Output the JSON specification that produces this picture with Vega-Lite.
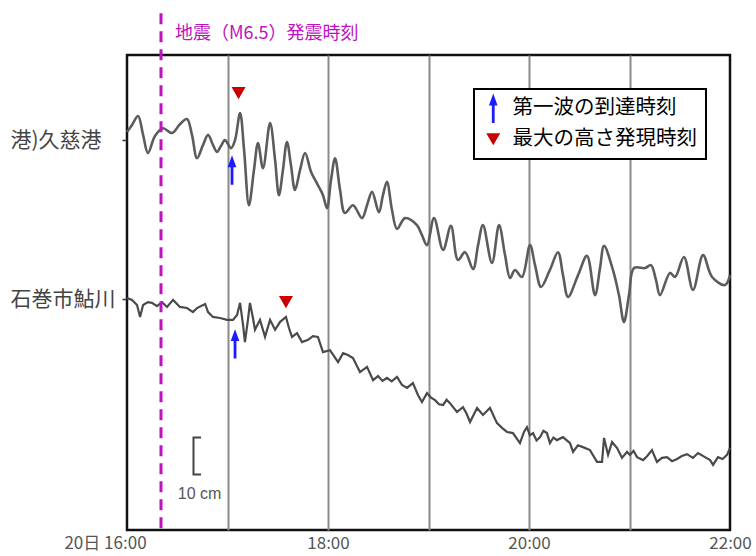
{
  "$schema": "https://vega.github.io/schema/vega-lite/v6.json",
  "autosize": "none",
  "width": 603,
  "height": 475,
  "padding": {"left": 127, "top": 55, "right": 26, "bottom": 26},
  "background": "white",
  "datasets": {
    "kuji": [
      {"t":0,"h":107.6},{"t":3.0,"h":109.5},{"t":6.6,"h":111.9},{"t":9.6,"h":106.8},{"t":12.5,"h":101.9},
      {"t":16.7,"h":106.5},{"t":21.5,"h":108.6},{"t":26.9,"h":107.3},{"t":31.6,"h":109.7},{"t":35.8,"h":111.1},
      {"t":38.8,"h":106.8},{"t":41.8,"h":100.5},{"t":45.4,"h":104.1},{"t":48.4,"h":106.8},{"t":51.3,"h":104.1},
      {"t":53.7,"h":102.2},{"t":56.1,"h":103.8},{"t":58.5,"h":105.4},{"t":62.1,"h":103.2},{"t":64.5,"h":105.4},
      {"t":67.5,"h":112.7},{"t":69.9,"h":102.7},{"t":72.8,"h":87.8},{"t":75.8,"h":97.3},{"t":78.2,"h":104.6},
      {"t":81.2,"h":97.8},{"t":85.4,"h":110.0},{"t":88.4,"h":100.0},{"t":90.7,"h":90.5},{"t":93.1,"h":97.3},
      {"t":95.5,"h":104.9},{"t":97.9,"h":98.6},{"t":100.3,"h":91.9},{"t":103.3,"h":97.3},{"t":106.3,"h":101.9},
      {"t":109.9,"h":96.8},{"t":114.0,"h":93.2},{"t":117.0,"h":90.5},{"t":119.4,"h":87.0},{"t":121.8,"h":94.6},
      {"t":124.2,"h":100.5},{"t":127.2,"h":91.9},{"t":130.1,"h":85.7},{"t":134.9,"h":87.8},{"t":140.3,"h":84.3},
      {"t":143.3,"h":87.8},{"t":146.3,"h":91.4},{"t":150.4,"h":85.9},{"t":152.8,"h":90.5},{"t":155.2,"h":94.1},
      {"t":158.2,"h":86.5},{"t":161.2,"h":81.4},{"t":166.0,"h":84.3},{"t":173.1,"h":82.4},{"t":176.1,"h":79.7},
      {"t":179.1,"h":77.0},{"t":183.3,"h":84.3},{"t":188.7,"h":75.7},{"t":193.4,"h":82.2},{"t":197.6,"h":73.0},
      {"t":201.8,"h":75.1},{"t":206.6,"h":70.5},{"t":209.6,"h":77.0},{"t":212.5,"h":82.4},{"t":217.9,"h":72.2},
      {"t":222.1,"h":82.4},{"t":225.7,"h":74.3},{"t":228.7,"h":68.1},{"t":231.6,"h":70.3},{"t":235.8,"h":68.4},
      {"t":240.6,"h":77.0},{"t":243.6,"h":71.6},{"t":247.2,"h":65.7},{"t":252.5,"h":70.3},{"t":257.3,"h":75.1},
      {"t":260.3,"h":68.9},{"t":263.3,"h":63.0},{"t":269.3,"h":68.9},{"t":274.6,"h":74.1},{"t":279.4,"h":63.5},
      {"t":282.4,"h":70.8},{"t":284.8,"h":76.8},{"t":290.1,"h":70.3},{"t":293.7,"h":63.5},{"t":296.7,"h":56.2},
      {"t":299.7,"h":63.5},{"t":302.7,"h":70.8},{"t":309.3,"h":70.8},{"t":312.8,"h":71.6},{"t":315.8,"h":67.6},
      {"t":318.2,"h":63.5},{"t":324.2,"h":69.5},{"t":327.2,"h":68.4},{"t":332.5,"h":73.8},{"t":337.9,"h":64.9},
      {"t":343.9,"h":74.3},{"t":349.3,"h":68.4},{"t":357.0,"h":66.2},{"t":360.0,"h":68.9}
    ],
    "ayukawa": [
      {"t":0,"h":62.7},{"t":3.0,"h":62.2},{"t":6.0,"h":60.8},{"t":7.8,"h":57.6},{"t":9.6,"h":60.8},
      {"t":12.5,"h":61.6},{"t":14.9,"h":61.4},{"t":17.9,"h":60.5},{"t":20.9,"h":61.6},{"t":23.9,"h":60.3},
      {"t":27.5,"h":62.2},{"t":31.6,"h":60.3},{"t":35.8,"h":60.0},{"t":39.4,"h":58.9},{"t":41.8,"h":60.0},
      {"t":46.6,"h":61.1},{"t":48.4,"h":58.9},{"t":51.3,"h":57.6},{"t":55.5,"h":57.3},{"t":59.7,"h":56.8},
      {"t":63.3,"h":56.8},{"t":65.7,"h":58.1},{"t":67.5,"h":61.4},{"t":69.3,"h":55.4},{"t":70.4,"h":50.8},
      {"t":72.2,"h":56.8},{"t":73.4,"h":61.4},{"t":75.2,"h":57.3},{"t":76.4,"h":54.1},{"t":79.4,"h":56.8},
      {"t":82.4,"h":52.2},{"t":85.4,"h":56.8},{"t":88.4,"h":54.1},{"t":91.3,"h":56.2},{"t":94.9,"h":57.6},
      {"t":96.7,"h":54.6},{"t":98.5,"h":52.2},{"t":101.5,"h":53.2},{"t":104.5,"h":50.8},{"t":108.1,"h":51.4},
      {"t":111.0,"h":52.4},{"t":114.0,"h":52.2},{"t":117.0,"h":48.1},{"t":121.2,"h":48.6},{"t":123.6,"h":47.0},
      {"t":126.0,"h":45.4},{"t":129.0,"h":47.8},{"t":131.9,"h":47.3},{"t":134.9,"h":46.5},{"t":139.1,"h":42.7},
      {"t":143.3,"h":44.1},{"t":146.9,"h":40.5},{"t":149.9,"h":41.6},{"t":152.5,"h":40.3},{"t":155.2,"h":41.1},
      {"t":158.0,"h":40.2},{"t":161.2,"h":41.4},{"t":164.2,"h":39.2},{"t":167.2,"h":38.4},{"t":170.7,"h":39.7},
      {"t":173.7,"h":36.5},{"t":176.1,"h":34.6},{"t":179.1,"h":37.0},{"t":181.5,"h":35.8},{"t":183.9,"h":35.1},
      {"t":186.3,"h":34.0},{"t":188.7,"h":33.8},{"t":190.8,"h":35.2},{"t":192.8,"h":34.3},{"t":197.0,"h":31.9},
      {"t":200.6,"h":33.2},{"t":202.7,"h":31.5},{"t":204.8,"h":29.2},{"t":209.0,"h":33.0},{"t":212.5,"h":31.1},
      {"t":216.7,"h":33.0},{"t":220.9,"h":28.9},{"t":223.9,"h":27.6},{"t":226.9,"h":26.5},{"t":230.4,"h":26.2},
      {"t":234.6,"h":23.5},{"t":237.0,"h":26.5},{"t":238.8,"h":27.8},{"t":240.5,"h":25.6},{"t":242.4,"h":26.2},
      {"t":244.5,"h":24.2},{"t":246.6,"h":25.1},{"t":248.6,"h":26.8},{"t":250.7,"h":26.2},{"t":252.5,"h":23.5},
      {"t":254.6,"h":25.0},{"t":256.7,"h":24.3},{"t":260.3,"h":25.1},{"t":264.5,"h":23.5},{"t":266.3,"h":21.1},
      {"t":269.2,"h":22.9},{"t":272.2,"h":22.4},{"t":276.4,"h":21.6},{"t":280.6,"h":18.4},{"t":283.6,"h":18.4},
      {"t":284.8,"h":24.9},{"t":287.2,"h":20.3},{"t":289.6,"h":23.8},{"t":292.5,"h":22.2},{"t":295.5,"h":19.5},
      {"t":298.5,"h":21.1},{"t":300.3,"h":20.3},{"t":302.4,"h":21.4},{"t":304.5,"h":19.7},{"t":308.1,"h":18.9},
      {"t":310.6,"h":20.0},{"t":313.4,"h":21.6},{"t":316.4,"h":18.4},{"t":319.4,"h":19.5},{"t":322.4,"h":19.7},
      {"t":325.4,"h":18.6},{"t":328.4,"h":19.2},{"t":331.3,"h":20.0},{"t":334.3,"h":20.5},{"t":337.9,"h":19.5},
      {"t":340.9,"h":20.8},{"t":345.1,"h":19.7},{"t":348.1,"h":18.9},{"t":349.9,"h":17.6},{"t":352.8,"h":19.7},
      {"t":355.6,"h":19.2},{"t":358.2,"h":20.3},{"t":360.0,"h":22.2}
    ],
    "events": [
      {"marker":"第一波の到達時刻","t":62.7,"h":97.3},
      {"marker":"最大の高さ発現時刻","t":66.6,"h":118.1},
      {"marker":"第一波の到達時刻","t":64.5,"h":50.3},
      {"marker":"最大の高さ発現時刻","t":94.9,"h":61.6}
    ],
    "scalebar": [
      {"t":44.2,"h":25,"o":0},{"t":39.7,"h":25,"o":1},{"t":39.7,"h":15,"o":2},{"t":44.2,"h":15,"o":3}
    ],
    "scalelabel": [{"t":43.3,"h":9.7,"label":"10 cm"}],
    "quake": [{"t":20.3,"h":139.7,"ty":134.1,"label":"地震（M6.5）発震時刻"}]
  },
  "encoding": {
    "x": {
      "field": "t", "type": "quantitative",
      "scale": {"domain": [0, 360], "nice": false, "zero": false},
      "axis": {
        "title": null, "domain": false, "ticks": false, "labelFlush": false,
        "values": [0, 60, 120, 180, 240, 300, 360],
        "labelExpr": "datum.value == 0 ? '20日 16:00' : (datum.value % 120 == 0 ? (16 + datum.value / 60) + ':00' : '')",
        "labelFont": "Noto Sans CJK JP", "labelFontSize": 17, "labelColor": "#555",
        "labelPadding": 5,
        "labelOffset": {"condition": {"test": "datum.value == 0", "value": -22}, "value": 0},
        "grid": true, "gridColor": "#8a8a8a", "gridWidth": 2,
        "gridOpacity": {"condition": {"test": "datum.value == 0 || datum.value == 360", "value": 0}, "value": 1}
      }
    },
    "y": {
      "field": "h", "type": "quantitative",
      "scale": {"domain": [0, 128.4], "nice": false, "zero": false},
      "axis": {
        "title": null, "domain": false, "grid": false,
        "values": [105.4, 62.4],
        "labelExpr": "datum.value > 80 ? '港)久慈港' : '石巻市鮎川'",
        "labelFont": "Noto Sans CJK JP", "labelFontSize": 21, "labelColor": "#444",
        "labelAlign": "left", "labelBaseline": "middle", "labelPadding": 112,
        "tickSize": 5, "tickColor": "#333", "tickWidth": 1.5
      }
    }
  },
  "layer": [
    {
      "data": {"name": "kuji"},
      "mark": {"type": "line", "interpolate": "catmull-rom", "color": "#5c5c5c", "strokeWidth": 2.6}
    },
    {
      "data": {"name": "ayukawa"},
      "mark": {"type": "line", "interpolate": "linear", "color": "#4a4a4a", "strokeWidth": 2.2}
    },
    {
      "data": {"name": "scalebar"},
      "mark": {"type": "line", "color": "#444", "strokeWidth": 2},
      "encoding": {"order": {"field": "o", "type": "quantitative"}}
    },
    {
      "data": {"name": "scalelabel"},
      "mark": {"type": "text", "font": "Liberation Sans", "fontSize": 16, "color": "#555", "align": "center", "baseline": "middle"},
      "encoding": {"text": {"field": "label"}}
    },
    {
      "data": {"name": "quake"},
      "mark": {"type": "rule", "color": "#c010c0", "strokeWidth": 3, "strokeDash": [11, 7], "clip": false},
      "encoding": {"y": {"field": "h", "type": "quantitative"}, "y2": {"datum": 0}}
    },
    {
      "data": {"name": "quake"},
      "mark": {"type": "text", "font": "Noto Sans CJK JP", "fontSize": 18, "color": "#c010c0", "align": "left", "baseline": "middle", "dx": 14},
      "encoding": {"y": {"field": "ty", "type": "quantitative"}, "text": {"field": "label"}}
    },
    {
      "data": {"name": "events"},
      "mark": {"type": "point", "filled": true, "opacity": 1, "size": 196, "strokeWidth": 0},
      "encoding": {
        "shape": {
          "field": "marker", "type": "nominal", "title": null,
          "scale": {
            "domain": ["第一波の到達時刻", "最大の高さ発現時刻"],
            "range": ["M0,-2.1L0.62,-0.4L0.2,-0.4L0.2,2.1L-0.2,2.1L-0.2,-0.4L-0.62,-0.4Z", "triangle-down"]
          }
        },
        "color": {
          "field": "marker", "type": "nominal", "title": null,
          "scale": {"domain": ["第一波の到達時刻", "最大の高さ発現時刻"], "range": ["#1c1cff", "#cc0000"]}
        }
      }
    }
  ],
  "config": {
    "view": {"stroke": "#111", "strokeWidth": 2.5},
    "legend": {
      "orient": "none", "legendX": 347, "legendY": 34, "direction": "vertical",
      "strokeColor": "#000", "strokeWidth": 2, "fillColor": "#fff", "padding": 9,
      "labelFont": "Noto Sans CJK JP", "labelFontSize": 20.5, "labelColor": "#000", "labelLimit": 400,
      "labelOffset": 9, "rowPadding": 6, "symbolSize": 196, "symbolStrokeWidth": 0, "symbolOpacity": 1
    }
  }
}
